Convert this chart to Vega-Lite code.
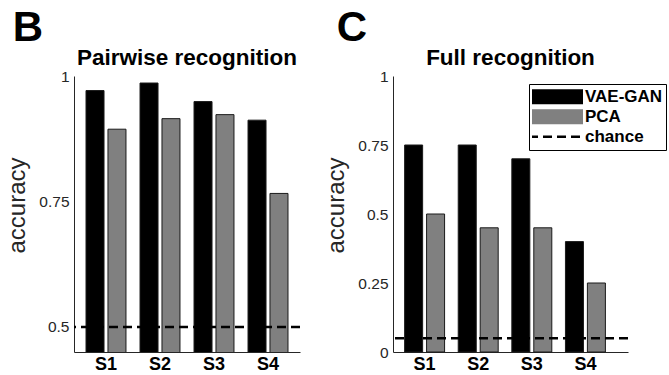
{
  "$schema": "https://vega.github.io/schema/vega-lite/v6.json",
  "padding": {"left": 5, "top": 6, "right": 0, "bottom": 0},
  "background": "white",
  "config": {
    "view": {"stroke": null},
    "font": "Liberation Sans",
    "axis": {"domainColor": "#262626", "ticks": false, "grid": false},
    "title": {"color": "#000000"}
  },
  "datasets": {
    "pair": [
      {"subject": "S1", "series": "VAE-GAN", "value": 0.971},
      {"subject": "S1", "series": "PCA", "value": 0.894},
      {"subject": "S2", "series": "VAE-GAN", "value": 0.986},
      {"subject": "S2", "series": "PCA", "value": 0.915},
      {"subject": "S3", "series": "VAE-GAN", "value": 0.949},
      {"subject": "S3", "series": "PCA", "value": 0.923},
      {"subject": "S4", "series": "VAE-GAN", "value": 0.912},
      {"subject": "S4", "series": "PCA", "value": 0.766}
    ],
    "pairChance": [{"series": "chance", "value": 0.5}],
    "full": [
      {"subject": "S1", "series": "VAE-GAN", "value": 0.75},
      {"subject": "S1", "series": "PCA", "value": 0.5},
      {"subject": "S2", "series": "VAE-GAN", "value": 0.75},
      {"subject": "S2", "series": "PCA", "value": 0.45},
      {"subject": "S3", "series": "VAE-GAN", "value": 0.7},
      {"subject": "S3", "series": "PCA", "value": 0.45},
      {"subject": "S4", "series": "VAE-GAN", "value": 0.4},
      {"subject": "S4", "series": "PCA", "value": 0.25}
    ],
    "fullChance": [{"series": "chance", "value": 0.05}]
  },
  "spacing": 22,
  "resolve": {"scale": {"color": "independent", "strokeDash": "independent", "strokeWidth": "independent"}},
  "hconcat": [
    {
      "title": {"text": "B", "anchor": "start", "fontSize": 42, "fontWeight": "bold", "offset": -3, "dx": 7},
      "hconcat": [
        {
          "width": 226,
          "height": 276,
          "title": {"text": "Pairwise recognition", "fontSize": 22.5, "fontWeight": "bold", "offset": 0},
          "layer": [
            {
              "data": {"name": "pair"},
              "mark": {"type": "bar", "clip": true, "stroke": "#1a1a1a", "strokeWidth": 1},
              "encoding": {
                "x": {"field": "subject", "type": "nominal", "sort": null,
                  "scale": {"paddingInner": 0.26, "paddingOuter": 0.2225, "align": 0.5},
                  "axis": {"title": null, "labelAngle": 0, "labelFontSize": 18, "labelFontWeight": "bold", "labelColor": "#000000", "labelPadding": 3}},
                "xOffset": {"field": "series", "type": "nominal", "sort": ["VAE-GAN", "PCA"],
                  "scale": {"paddingInner": 0.18, "paddingOuter": 0}},
                "y": {"field": "value", "type": "quantitative",
                  "scale": {"domain": [0.45, 1], "zero": false, "nice": false},
                  "axis": {"values": [0.5, 0.75, 1], "format": ".2~f", "labelFontSize": 15.5, "labelColor": "#262626", "labelPadding": 5,
                    "title": "accuracy", "titleFontSize": 24, "titleFontWeight": "normal", "titleColor": "#262626", "titlePadding": 9, "titleY": 129}},
                "color": {"field": "series", "type": "nominal",
                  "scale": {"domain": ["VAE-GAN", "PCA"], "range": ["#000000", "#808080"]}, "legend": null}
              }
            },
            {
              "data": {"name": "pairChance"},
              "mark": {"type": "rule", "color": "#000000", "strokeWidth": 2.5, "strokeDash": [9, 5]},
              "encoding": {"y": {"field": "value", "type": "quantitative"}}
            }
          ]
        }
      ]
    },
    {
      "title": {"text": "C", "anchor": "start", "fontSize": 42, "fontWeight": "bold", "offset": -3, "dx": 12},
      "hconcat": [
        {
          "width": 235,
          "height": 276,
          "title": {"text": "Full recognition", "fontSize": 22.5, "fontWeight": "bold", "offset": 0},
          "layer": [
            {
              "data": {"name": "full"},
              "mark": {"type": "bar", "stroke": "#1a1a1a", "strokeWidth": 1},
              "encoding": {
                "x": {"field": "subject", "type": "nominal", "sort": null,
                  "scale": {"paddingInner": 0.254, "paddingOuter": 0.319, "align": 0.34},
                  "axis": {"title": null, "labelAngle": 0, "labelFontSize": 18, "labelFontWeight": "bold", "labelColor": "#000000", "labelPadding": 3}},
                "xOffset": {"field": "series", "type": "nominal", "sort": ["VAE-GAN", "PCA"],
                  "scale": {"paddingInner": 0.18, "paddingOuter": 0}},
                "y": {"field": "value", "type": "quantitative",
                  "scale": {"domain": [0, 1], "nice": false},
                  "axis": {"values": [0, 0.25, 0.5, 0.75, 1], "format": ".2~f", "labelFontSize": 15.5, "labelColor": "#262626", "labelPadding": 5,
                    "title": "accuracy", "titleFontSize": 24, "titleFontWeight": "normal", "titleColor": "#262626", "titlePadding": 9, "titleY": 129}},
                "color": {"field": "series", "type": "nominal",
                  "scale": {"domain": ["VAE-GAN", "PCA", "chance"], "range": ["#000000", "#808080", "#000000"]},
                  "legend": {"title": null, "orient": "none", "legendX": 136, "legendY": 8, "symbolType": "M-6,0H6", "symbolSize": 81,
                    "symbolOffset": 12, "labelOffset": 17, "rowPadding": 0, "clipHeight": 19.5,
                    "labelFontSize": 17, "labelFontWeight": "bold", "labelColor": "#000000",
                    "strokeColor": "#000000", "fillColor": "#ffffff", "padding": 3}}
              }
            },
            {
              "data": {"name": "fullChance"},
              "mark": {"type": "rule"},
              "encoding": {
                "y": {"field": "value", "type": "quantitative"},
                "color": {"field": "series", "type": "nominal",
                  "scale": {"domain": ["VAE-GAN", "PCA", "chance"], "range": ["#000000", "#808080", "#000000"]}},
                "strokeDash": {"field": "series", "type": "nominal",
                  "scale": {"domain": ["VAE-GAN", "PCA", "chance"], "range": [[1, 0], [1, 0], [9, 5]]}},
                "strokeWidth": {"field": "series", "type": "nominal",
                  "scale": {"type": "ordinal", "domain": ["VAE-GAN", "PCA", "chance"], "range": [15, 15, 2.5]}}
              }
            }
          ]
        }
      ]
    }
  ]
}
